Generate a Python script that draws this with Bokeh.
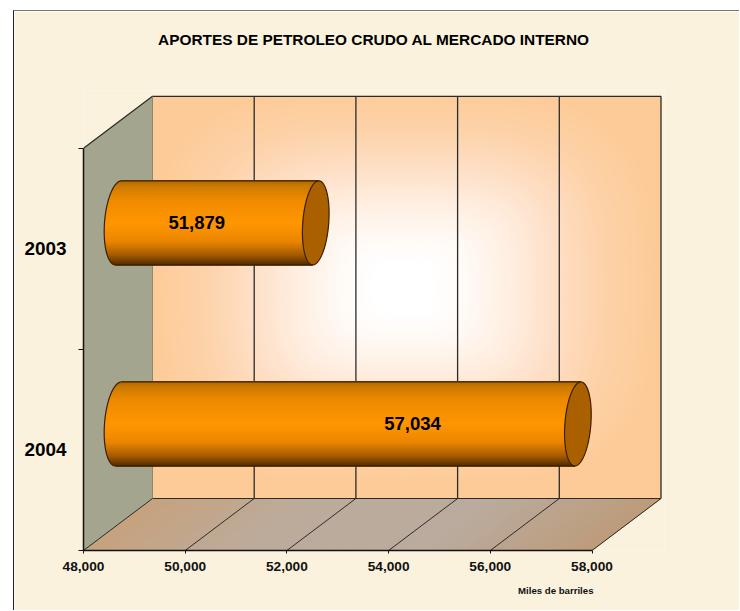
import numpy as np
from bokeh.embed import file_html
from bokeh.resources import INLINE
from bokeh.plotting import figure
from bokeh.models import ColumnDataSource, FixedTicker, Range1d, Title
from bokeh.core.properties import value

# ---- data ----
categories = ["2003", "2004"]
cat_pos = [1.5, 0.5]
values = [51879, 57034]
value_labels = ["51,879", "57,034"]
x_ticks = [48000, 50000, 52000, 54000, 56000, 58000]
x_tick_labels = ["48,000", "50,000", "52,000", "54,000", "56,000", "58,000"]
chart_title = "APORTES DE PETROLEO CRUDO AL MERCADO INTERNO"
unit_note = "Miles de barriles"

# ---- layout / style ----
FONT = "Liberation Sans"
INK = "#2b2b2b"
PAPER = "#FBF2DE"
PX_PER_X = 508.5 / 10000
PX_PER_Y = 201.1
DX = 69 / PX_PER_X        # oblique depth in x units
DY = 52 / PX_PER_Y        # oblique depth in y units
FRAME_W, FRAME_H = 581, 460
LABEL_FRAC = [0.397, 0.640]

def hexmix(stops, t):
    ts = [s[0] for s in stops]
    rgb = [np.interp(t, ts, [int(s[1][i:i+2], 16) for s in stops]) for i in (1, 3, 5)]
    return "#%02x%02x%02x" % tuple(int(round(c)) for c in rgb)

p = figure(
    width=726, height=600, output_backend="svg", toolbar_location=None,
    x_range=Range1d(x_ticks[0], x_ticks[0] + FRAME_W / PX_PER_X),
    y_range=Range1d(0, FRAME_H / PX_PER_Y),
    min_border_left=69, min_border_right=76, min_border_top=79, min_border_bottom=61,
    border_fill_color=PAPER, background_fill_color=PAPER, outline_line_color=None,
    styles={"margin-left": "13px", "margin-top": "10px",
            "border-left": "1px solid #222", "border-top": "1px solid #777"},
)
p.grid.visible = False
p.add_layout(Title(text=" ", align="center", text_font=FONT, text_font_size="10px", standoff=26), "above")
p.add_layout(Title(text=chart_title, align="center", text_font=FONT, text_font_style="bold",
                   text_font_size="15.4px", text_color="#000000", standoff=8), "above")

# ---- x axis ----
ax = p.xaxis[0]
ax.ticker = FixedTicker(ticks=x_ticks)
ax.major_label_overrides = {t: l for t, l in zip(x_ticks, x_tick_labels)}
ax.bounds = (x_ticks[0], x_ticks[-1])
ax.axis_line_color = "#111111"; ax.axis_line_width = 1.5
ax.major_tick_in = 0; ax.major_tick_out = 3; ax.major_tick_line_color = "#111111"
ax.minor_tick_line_color = None
ax.major_label_standoff = 8
ax.major_label_text_font = FONT; ax.major_label_text_font_style = "bold"
ax.major_label_text_font_size = "13.7px"; ax.major_label_text_color = "#111111"
p.add_layout(Title(text=unit_note, align="right", text_font=FONT, text_font_style="bold",
                   text_font_size="9.65px", text_color="#111111", offset=71, standoff=18), "below")

# ---- y axis ----
ay = p.yaxis[0]
ay.ticker = FixedTicker(ticks=sorted(cat_pos), minor_ticks=[0, 1, 2])
ay.major_label_overrides = {c: n for c, n in zip(cat_pos, categories)}
ay.bounds = (0, 2)
ay.axis_line_color = "#111111"; ay.axis_line_width = 1.5
ay.major_tick_line_color = None; ay.major_tick_in = 0; ay.major_tick_out = 0
ay.minor_tick_in = 0; ay.minor_tick_out = 5; ay.minor_tick_line_color = "#111111"
ay.major_label_standoff = 12
ay.major_label_text_font = FONT; ay.major_label_text_font_style = "bold"
ay.major_label_text_font_size = "18.9px"; ay.major_label_text_color = "#000000"
ay.major_label_orientation = "horizontal"

x0, x1 = x_ticks[0], x_ticks[-1]

# ---- floor ----
n = 40
edges = np.linspace(x0, x1, n + 1)
floor_stops = [(0, "#C6A27E"), (0.3, "#BCAB9B"), (0.65, "#BAAB9E"), (1, "#BD9B78")]
p.patches(
    xs=[[a, b, b + DX, a + DX] for a, b in zip(edges[:-1], edges[1:])],
    ys=[[0, 0, DY, DY] for _ in range(n)],
    fill_color=[hexmix(floor_stops, (a - x0) / (x1 - x0)) for a in edges[:-1]],
    line_color=[hexmix(floor_stops, (a - x0) / (x1 - x0)) for a in edges[:-1]], line_width=1,
)

# ---- side wall ----
p.patch([x0, x0 + DX, x0 + DX, x0], [2, 2 + DY, DY, 0], fill_color="#A3A58E",
        line_color="#A3A58E", line_width=0.5)

# ---- back wall: soft path gradient, clipped to the wall ----
cx = x0 + DX + 251 / PX_PER_X
cy = 2 + DY - 191 / PX_PER_Y
wall_stops = [(0, "#FFFFFF"), (0.12, "#FFFFFF"), (0.25, "#FFFAF6"), (0.42, "#FFEFE2"),
              (0.6, "#FEDFC6"), (0.8, "#FDD2A8"), (1.0, "#FDCB98")]
wl, wr, wb, wt = x0 + DX, x1 + DX, DY, 2 + DY
p.quad(left=[wl], right=[wr], bottom=[wb], top=[wt], fill_color="#FDCB98", line_color=None)
ms = np.linspace(1.0, 0.1, 70)
hw = 254 / PX_PER_X
hh = 200 / PX_PER_Y
angles = np.linspace(0, 2 * np.pi, 97)
POW = 3.5
ux = np.sign(np.cos(angles)) * np.abs(np.cos(angles)) ** (2 / POW)
uy = np.sign(np.sin(angles)) * np.abs(np.sin(angles)) ** (2 / POW)
p.patches(
    xs=[np.clip(cx + m * hw * ux, wl, wr).tolist() for m in ms],
    ys=[np.clip(cy + m * hh * uy, wb, wt).tolist() for m in ms],
    fill_color=[hexmix(wall_stops, m) for m in ms], line_color=None,
)

# ---- wall / floor lines ----
p.segment(x0=[x + DX for x in x_ticks[1:]], y0=[DY] * 5, x1=[x + DX for x in x_ticks[1:]],
          y1=[2 + DY] * 5, line_color=INK, line_width=1.3)
p.segment(x0=x_ticks, y0=[0] * 6, x1=[x + DX for x in x_ticks], y1=[DY] * 6,
          line_color=INK, line_width=1)
p.line([x0 + DX, x1 + DX], [DY, DY], line_color=INK, line_width=1.2)
p.line([x0, x0 + DX, x1 + DX], [2, 2 + DY, 2 + DY], line_color=INK, line_width=1.2)
p.line([x0 + DX, x0 + DX], [DY, 2 + DY], line_color="#777766", line_width=0.8)

# ---- cylinders ----
R_Y = 42 / PX_PER_Y
A_X = 13 / PX_PER_X
A_X_LEFT = 14 / PX_PER_X
SKEW = 3 / PX_PER_X
NUDGE = 0.5 / PX_PER_X
body_stops = [(0, "#B06800"), (0.07, "#CC7A00"), (0.22, "#EE8A00"), (0.5, "#FF9600"),
              (0.72, "#EC8600"), (0.88, "#A85C00"), (1, "#552D00")]
for v, c in zip(values, cat_pos):
    xl = x0 + DX / 2 + NUDGE
    xr = v + DX / 2 + NUDGE
    yc = c + DY / 2
    ts = np.linspace(1, -1, 85)
    ys = yc + R_Y * ts
    lefts = xl - A_X_LEFT * np.sqrt(np.clip(1 - ts ** 2, 0, 1)) + SKEW * ts
    rights = xr + SKEW * ts
    cols = [hexmix(body_stops, (1 - t) / 2) for t in ts]
    p.segment(lefts, ys, rights, ys, line_color=cols, line_width=1.7, line_cap="butt")
    th = np.linspace(0, 2 * np.pi, 121)
    ex = xr + A_X * np.cos(th) + SKEW * np.sin(th)
    ey = yc + R_Y * np.sin(th)
    p.patch(ex, ey, fill_color="#AB6000", line_color="#3A2000", line_width=1.2)
    th2 = np.linspace(np.pi / 2, 3 * np.pi / 2, 61)
    lx = xl + A_X_LEFT * np.cos(th2) + SKEW * np.sin(th2)
    ly = yc + R_Y * np.sin(th2)
    p.line(np.r_[xr + SKEW, lx, xr - SKEW], np.r_[yc + R_Y, ly, yc - R_Y],
           line_color="#3A2000", line_width=1.2)

# ---- value labels ----
lx = [x0 + DX / 2 + NUDGE + f * (v - x0) for v, f in zip(values, LABEL_FRAC)]
src = ColumnDataSource(dict(x=lx, y=[c + DY / 2 for c in cat_pos], t=value_labels))
p.text("x", "y", text="t", source=src, text_font=value(FONT), text_font_style="bold",
       text_font_size="18.5px", text_color="#000000", text_align="center",
       text_baseline="middle")

open("out.html", "w").write(file_html(p, INLINE))
